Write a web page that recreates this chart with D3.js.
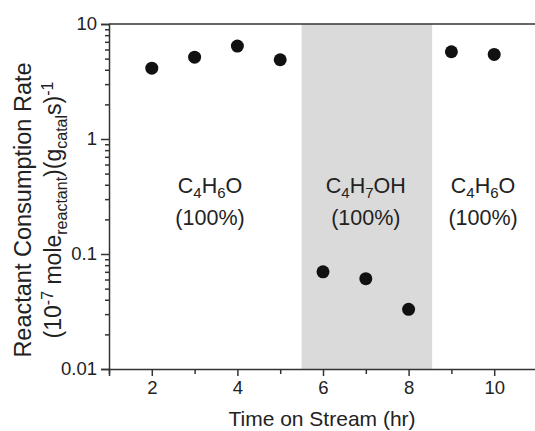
<!DOCTYPE html>
<html>
<head>
<meta charset="utf-8">
<script src="https://cdn.jsdelivr.net/npm/d3@7"></script>
<style>
  body { margin: 0; background: #fff; }
  svg { display: block; font-family: "Liberation Sans", Arial, sans-serif; }
</style>
</head>
<body>
<svg id="chart" width="535" height="431"></svg>
<script>
// data
var hours = [2, 3, 4, 5, 6, 7, 8, 9, 10];
var rates = [4.13, 5.15, 6.43, 4.89, 0.070, 0.061, 0.033, 5.74, 5.44];
var shadeHours = [5.5, 8.55];
var xTicks = [2, 4, 6, 8, 10];
var xMinor = [1, 3, 5, 7, 9, 11];
var yTicks = [0.01, 0.1, 1, 10];
var yTickLabels = ['0.01', '0.1', '1', '10'];
var labelHours = [3.36, 7.0, 9.74];
var labelFormula = [['C', '4', 'H', '6', 'O'], ['C', '4', 'H', '7', 'OH'], ['C', '4', 'H', '6', 'O']];
var labelPct = ['(100%)', '(100%)', '(100%)'];

var strokeColor = '#333';
// plot box (window.top is reserved, so use other names)
var plotLeft = 109, plotTop = 24, plotBottom = 369, plotRight = 537;

var svg = d3.select('#chart');

var x = d3.scaleLinear().domain([1, 11]).range([plotLeft, plotRight]);
var y = d3.scaleLog().domain([0.01, 10]).range([plotBottom, plotTop]);

// shaded region
svg.append('rect')
    .attr('x', x(shadeHours[0]))
    .attr('y', plotTop)
    .attr('width', x(shadeHours[1]) - x(shadeHours[0]))
    .attr('height', plotBottom - plotTop)
    .style('fill', '#dadada');

// y minor ticks (2..9 in each decade)
var yMinor = [];
[0.01, 0.1, 1].forEach(function(dec) {
    for (var k = 2; k < 10; k++) yMinor.push(dec * k);
});

svg.append('g')
    .attr('transform', 'translate(' + plotLeft + ',0)')
    .call(d3.axisLeft(y).tickValues(yTicks)
        .tickFormat(function(d, i) { return yTickLabels[i]; })
        .tickSize(8).tickPadding(4));

svg.append('g')
    .attr('transform', 'translate(' + plotLeft + ',0)')
    .call(d3.axisLeft(y).tickValues(yMinor).tickFormat('').tickSize(4))
    .select('.domain').remove();

svg.append('g')
    .attr('transform', 'translate(0,' + plotBottom + ')')
    .call(d3.axisBottom(x).tickValues(xTicks).tickFormat(d3.format('d'))
        .tickSize(7).tickPadding(5));

svg.append('g')
    .attr('transform', 'translate(0,' + plotBottom + ')')
    .call(d3.axisBottom(x).tickValues(xMinor).tickFormat('').tickSize(5))
    .select('.domain').remove();

svg.selectAll('.domain, .tick line')
    .style('stroke', strokeColor)
    .style('stroke-width', 1.5);
svg.selectAll('.tick text')
    .style('font-family', '"Liberation Sans", Arial, sans-serif')
    .style('font-size', '18.5px')
    .style('fill', '#222');

// top frame line
svg.append('line')
    .attr('x1', plotLeft).attr('x2', plotRight)
    .attr('y1', plotTop).attr('y2', plotTop)
    .style('stroke', strokeColor)
    .style('stroke-width', 1.5);

// points
svg.selectAll('circle.pt')
    .data(hours)
    .enter()
    .append('circle')
    .classed('pt', true)
    .attr('cx', function(d) { return x(d); })
    .attr('cy', function(d, i) { return y(rates[i]); })
    .attr('r', 6.5)
    .style('fill', '#111');

// region labels
var labels = svg.selectAll('g.lbl')
    .data(labelHours)
    .enter()
    .append('g')
    .classed('lbl', true);

labels.append('text')
    .attr('x', function(d) { return x(d); })
    .attr('y', y(0.34))
    .attr('text-anchor', 'middle')
    .style('font-size', '21.5px')
    .style('fill', '#222')
    .each(function(d, i) {
        var t = d3.select(this);
        labelFormula[i].forEach(function(part, j) {
            var sub = j % 2 === 1;
            t.append('tspan')
                .attr('dy', sub ? 5 : (j > 0 ? -5 : 0))
                .style('font-size', sub ? '15px' : '21.5px')
                .text(part);
        });
    });

labels.append('text')
    .attr('x', function(d) { return x(d); })
    .attr('y', y(0.18))
    .attr('text-anchor', 'middle')
    .style('font-size', '21.5px')
    .style('fill', '#222')
    .text(function(d, i) { return labelPct[i]; });

// axis titles
svg.append('text')
    .attr('x', (plotLeft + 535) / 2)
    .attr('y', 426)
    .attr('text-anchor', 'middle')
    .style('font-size', '21px')
    .style('fill', '#222')
    .text('Time on Stream (hr)');

var yMid = 210;
svg.append('text')
    .attr('transform', 'translate(31,' + yMid + ')rotate(-90)')
    .attr('text-anchor', 'middle')
    .style('font-size', '23.5px')
    .style('fill', '#222')
    .text('Reactant Consumption Rate');

var t2 = svg.append('text')
    .attr('transform', 'translate(61,' + yMid + ')rotate(-90)')
    .attr('text-anchor', 'middle')
    .style('font-size', '23px')
    .style('fill', '#222');

var parts = [
    ['(10', 0], ['-7', -8], [' mole', 8], ['reactant', 6], [')(g', -6],
    ['catal', 6], ['s)', -6], ['-1', -8]
];
var sizes = { '-7': 16, 'reactant': 16, 'catal': 16, '-1': 16 };
parts.forEach(function(p) {
    t2.append('tspan')
        .attr('dy', p[1])
        .style('font-size', (sizes[p[0]] || 23) + 'px')
        .text(p[0]);
});
</script>
</body>
</html>
